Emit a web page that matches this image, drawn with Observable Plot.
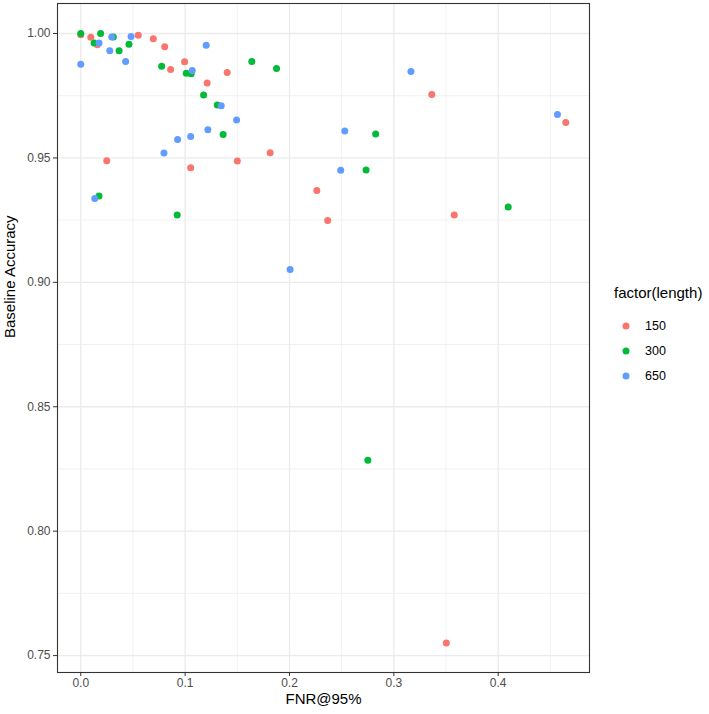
<!DOCTYPE html>
<html>
<head>
<meta charset="utf-8">
<script src="https://cdn.jsdelivr.net/npm/d3@7"></script>
<script src="https://cdn.jsdelivr.net/npm/@observablehq/plot@0.6"></script>
<style>
  body { margin: 0; background: #fff; font-family: "Liberation Sans", Arial, sans-serif; }
  #chart { position: relative; width: 709px; height: 714px; }
  #chart svg { position: absolute; left: 0; top: 0; }
  .legend-title { position: absolute; left: 614px; top: 284px; font-size: 15px; color: #000; line-height: 18px; white-space: nowrap; }
  .legend-item { position: absolute; left: 620px; height: 14px; display: flex; align-items: center; font-size: 12.5px; color: #000; }
  .legend-item svg { position: static !important; margin-right: 13px; }
</style>
</head>
<body>
<div id="chart"></div>
<script>
// Sequence length groups and their colours
const lengths = ["150", "300", "650"];
const colors = ["#F8766D", "#00BA38", "#619CFF"];

// FNR@95% and baseline accuracy per run, length 150
const fnr150 = [0.000, 0.0096, 0.016, 0.0551, 0.0695, 0.0804, 0.0861, 0.0995, 0.1211, 0.1403,
                0.0249, 0.1053, 0.150, 0.1815, 0.2262, 0.2366, 0.3364, 0.4648, 0.3579, 0.3503];
const acc150 = [0.9995, 0.9985, 0.9955, 0.9993, 0.9979, 0.9947, 0.9855, 0.9887, 0.9801, 0.9843,
                0.9489, 0.9461, 0.9488, 0.9521, 0.9369, 0.9249, 0.9755, 0.9642, 0.9271, 0.7551];

// length 300
const fnr300 = [0.000, 0.0128, 0.019, 0.0312, 0.0367, 0.0462, 0.0775, 0.1011, 0.1058, 0.1177,
                0.1308, 0.1364, 0.1639, 0.1876, 0.2826, 0.2734, 0.0175, 0.0924, 0.4096, 0.2751];
const acc300 = [1.000, 0.9962, 1.000, 0.9986, 0.9931, 0.9957, 0.9868, 0.9840, 0.9838, 0.9753,
                0.9713, 0.9594, 0.9888, 0.9859, 0.9596, 0.9451, 0.9347, 0.9271, 0.9303, 0.8285];

// length 650
const fnr650 = [0.000, 0.0175, 0.0297, 0.0278, 0.043, 0.0482, 0.1068, 0.1202, 0.1346, 0.1493,
                0.1218, 0.1053, 0.0928, 0.0797, 0.0134, 0.253, 0.2491, 0.3164, 0.4568, 0.2006];
const acc650 = [0.9876, 0.9962, 0.9986, 0.9931, 0.9888, 0.9988, 0.9851, 0.9953, 0.9710, 0.9652,
                0.9613, 0.9586, 0.9574, 0.9520, 0.9337, 0.9608, 0.9450, 0.9847, 0.9675, 0.9052];

// Axis ticks
const xTicks = [0, 0.1, 0.2, 0.3, 0.4];
const xMinor = [0.05, 0.15, 0.25, 0.35, 0.45];
const yTicks = [0.75, 0.80, 0.85, 0.90, 0.95, 1.00];
const yMinor = [0.775, 0.825, 0.875, 0.925, 0.975];

const series = [[fnr150, acc150], [fnr300, acc300], [fnr650, acc650]];
const rows = series.flatMap(([xs, ys], i) =>
  xs.map((x, j) => ({ fnr: x, acc: ys[j], length: lengths[i] })));

const plot = Plot.plot({
  width: 709,
  height: 714,
  marginLeft: 57,
  marginRight: 120,
  marginTop: 3,
  marginBottom: 42,
  style: { fontFamily: "Liberation Sans, Arial, sans-serif", background: "#fff" },
  x: { domain: [-0.0223, 0.4875], label: null },
  y: { domain: [0.7432, 1.01206], label: null },
  color: { domain: lengths, range: colors },
  marks: [
    Plot.gridX(xMinor, { stroke: "#EBEBEB", strokeOpacity: 1, strokeWidth: 0.7 }),
    Plot.gridY(yMinor, { stroke: "#EBEBEB", strokeOpacity: 1, strokeWidth: 0.7 }),
    Plot.gridX(xTicks, { stroke: "#EBEBEB", strokeOpacity: 1, strokeWidth: 1.3 }),
    Plot.gridY(yTicks, { stroke: "#EBEBEB", strokeOpacity: 1, strokeWidth: 1.3 }),
    Plot.dot(rows, { x: "fnr", y: "acc", fill: "length", r: 3.5 }),
    Plot.frame({ stroke: "#333333", strokeWidth: 1.1 }),
    Plot.axisX(xTicks, {
      tickFormat: d3.format(".1f"), tickSize: 4, tickPadding: 2,
      stroke: "#333333", fill: "#4D4D4D", fontSize: 12, label: null
    }),
    Plot.axisY(yTicks, {
      tickFormat: d3.format(".2f"), tickSize: 4, tickPadding: 3,
      stroke: "#333333", fill: "#4D4D4D", fontSize: 12, label: null
    }),
    Plot.text(["FNR@95%"], { frameAnchor: "bottom", dy: 31, fontSize: 15, fill: "#000" }),
    Plot.text(["Baseline Accuracy"], { frameAnchor: "left", dx: -47, rotate: -90, fontSize: 15, fill: "#000" })
  ]
});

const chart = document.getElementById("chart");
chart.appendChild(plot);

// Legend for the length groups
const title = document.createElement("div");
title.className = "legend-title";
title.textContent = "factor(length)";
chart.appendChild(title);
const rowCenters = [326, 350.5, 375.5];
lengths.forEach((len, i) => {
  const item = document.createElement("div");
  item.className = "legend-item";
  item.style.top = (rowCenters[i] - 7) + "px";
  item.innerHTML = `<svg width="12" height="12"><circle cx="6" cy="6" r="3.5" fill="${colors[i]}"/></svg><span>${len}</span>`;
  chart.appendChild(item);
});
</script>
</body>
</html>
